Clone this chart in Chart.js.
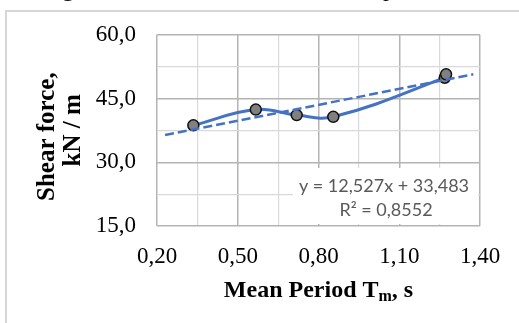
<!DOCTYPE html>
<html>
<head>
<meta charset="utf-8">
<script src="https://cdn.jsdelivr.net/npm/chart.js@4.4.1/dist/chart.umd.min.js"></script>
<style>
  html, body { margin: 0; padding: 0; background: #ffffff; }
  #wrap { position: relative; width: 519px; height: 323px; overflow: hidden; }
  canvas { display: block; }
</style>
</head>
<body>
<div id="wrap"><canvas id="c" width="519" height="323"></canvas></div>
<script>
// ---- data ----
const periods    = [0.335, 0.567, 0.719, 0.855, 1.269, 1.274];
const shearForce = [38.7, 42.4, 41.1, 40.7, 49.9, 50.7];
const trendPeriods = [0.23, 1.375];
const trendForce   = [36.4, 50.7];
const xTickLabels = ['0,20', '0,50', '0,80', '1,10', '1,40'];
const yTickLabels = ['15,0', '30,0', '45,0', '60,0'];
const yTitleLines = ['Shear force,  ', 'kN / m'];
const xTitleParts = ['Mean Period T', 'm', ', s'];
const equationLines = ['y = 12,527x + 33,483', 'R² = 0,8552'];
const captionFragments = ['g', 'p'];

const BLUE = '#4472C4';
const MAJOR = '#b4b4b4';
const MINOR = '#d9d9d9';

function pts(xs, ys) { return xs.map((x, i) => ({ x: x, y: ys[i] })); }
function isMajorX(v) { return Math.abs(((v - 0.2) / 0.3) - Math.round((v - 0.2) / 0.3)) < 1e-6; }
function isMajorY(v) { return Math.abs((v / 15) - Math.round(v / 15)) < 1e-6; }
function fmtX(v) { const s = v.toFixed(2).replace('.', ','); return xTickLabels.includes(s) ? s : ''; }
function fmtY(v) { const s = v.toFixed(1).replace('.', ','); return yTickLabels.includes(s) ? s : ''; }

const decor = {
  id: 'decor',
  beforeDraw(chart) {
    const ctx = chart.ctx;
    ctx.save();
    ctx.strokeStyle = '#d6d6d6';
    ctx.lineWidth = 2;
    ctx.strokeRect(6, 11, 700, 500);
    ctx.fillStyle = '#000';
    ctx.font = '24px "Liberation Serif"';
    ctx.textBaseline = 'alphabetic';
    ctx.fillText(captionFragments[0], 62, -4);
    ctx.fillText(captionFragments[1], 383, -4);
    ctx.restore();
  },
  beforeDatasetsDraw(chart) {
    const ctx = chart.ctx;
    ctx.save();
    ctx.fillStyle = '#ffffff';
    ctx.fillRect(293, 168, 185, 56);
    ctx.fillStyle = '#595959';
    ctx.font = '18px Lato';
    ctx.textAlign = 'center';
    ctx.textBaseline = 'middle';
    ctx.fillText(equationLines[0], 384, 186);
    ctx.fillText(equationLines[1], 386, 210);
    ctx.restore();
  },
  afterDraw(chart) {
    const ctx = chart.ctx;
    const a = chart.chartArea;
    ctx.save();
    ctx.fillStyle = '#000';
    ctx.textBaseline = 'alphabetic';
    const big = 'bold 24px "Liberation Serif"';
    const small = 'bold 16px "Liberation Serif"';
    ctx.font = big;
    const w1 = ctx.measureText(xTitleParts[0]).width;
    const w3 = ctx.measureText(xTitleParts[2]).width;
    ctx.font = small;
    const w2 = ctx.measureText(xTitleParts[1]).width;
    let x = (a.left + a.right) / 2 - (w1 + w2 + w3) / 2;
    const base = 297;
    ctx.font = big; ctx.fillText(xTitleParts[0], x, base); x += w1;
    ctx.font = small; ctx.fillText(xTitleParts[1], x, base + 4); x += w2;
    ctx.font = big; ctx.fillText(xTitleParts[2], x, base);
    ctx.restore();
  }
};

new Chart(document.getElementById('c'), {
  type: 'scatter',
  data: {
    datasets: [
      {
        label: 'Shear force',
        data: pts(periods, shearForce),
        showLine: true,
        tension: 0.4,
        borderColor: BLUE,
        borderWidth: 3,
        pointRadius: 5.5,
        pointBackgroundColor: '#808080',
        pointBorderColor: '#111111',
        pointBorderWidth: 1.5,
        order: 2
      },
      {
        label: 'Linear trend',
        data: pts(trendPeriods, trendForce),
        showLine: true,
        borderColor: BLUE,
        borderWidth: 2.5,
        borderDash: [9, 4],
        pointRadius: 0,
        order: 1
      }
    ]
  },
  options: {
    responsive: false,
    animation: false,
    devicePixelRatio: 1,
    layout: { padding: { left: 0, right: 39, top: 33, bottom: 17 } },
    plugins: { legend: { display: false }, tooltip: { enabled: false } },
    scales: {
      x: {
        type: 'linear',
        min: 0.2, max: 1.4,
        afterFit(s) { s.height = 80; },
        ticks: {
          stepSize: 0.15,
          autoSkip: false,
          maxRotation: 0,
          padding: 17,
          color: '#000',
          font: { family: '"Liberation Serif"', size: 23 },
          callback: (v) => fmtX(v)
        },
        grid: {
          drawTicks: false,
          color: (c) => isMajorX(c.tick.value) ? MAJOR : MINOR,
          lineWidth: (c) => isMajorX(c.tick.value) ? 1.5 : 1.2
        },
        border: { display: false }
      },
      y: {
        min: 15, max: 60,
        afterFit(s) { s.width = 157; },
        ticks: {
          stepSize: 7.5,
          autoSkip: false,
          padding: 21,
          color: '#000',
          font: { family: '"Liberation Serif"', size: 23 },
          callback: (v) => fmtY(v)
        },
        grid: {
          drawTicks: false,
          color: (c) => isMajorY(c.tick.value) ? MAJOR : MINOR,
          lineWidth: (c) => isMajorY(c.tick.value) ? 1.5 : 1.2
        },
        border: { display: false },
        title: {
          display: true,
          text: yTitleLines,
          color: '#000',
          font: { family: '"Liberation Serif"', size: 25, weight: 'bold', lineHeight: 1.04 },
          padding: { top: 35, bottom: 0 }
        }
      }
    }
  },
  plugins: [decor]
});
</script>
</body>
</html>
